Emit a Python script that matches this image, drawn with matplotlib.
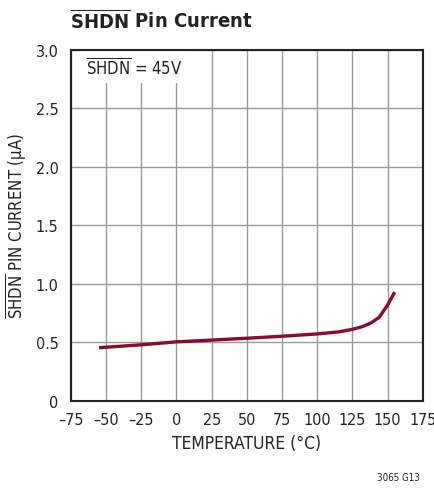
import matplotlib
matplotlib.use("Agg")
import matplotlib.pyplot as plt
import numpy as np

plt.rcParams['font.family'] = ['DejaVu Sans']
plt.rcParams['font.stretch'] = 'condensed'
plt.rcParams['mathtext.fontset'] = 'custom'
plt.rcParams['mathtext.rm'] = 'DejaVu Sans:stretch=condensed'
plt.rcParams['mathtext.bf'] = 'DejaVu Sans:weight=bold:stretch=condensed'

# data
temp_c = [-55, -25, 0, 25, 50, 75, 100, 115, 125, 132, 138, 144, 150, 155]
current_ua = [0.455, 0.48, 0.505, 0.52, 0.536, 0.553, 0.573, 0.59, 0.612, 0.635, 0.665, 0.715, 0.82, 0.93]

x_ticks = [-75, -50, -25, 0, 25, 50, 75, 100, 125, 150, 175]
y_ticks = [0, 0.5, 1.0, 1.5, 2.0, 2.5, 3.0]
y_labels = ['0', '0.5', '1.0', '1.5', '2.0', '2.5', '3.0']

fig = plt.figure(figsize=(4.35, 4.89), dpi=100)
ax = fig.add_axes([0.163, 0.178, 0.809, 0.718])

ax.plot(temp_c, current_ua, color='#8b0a2e', lw=2.4, solid_capstyle='butt', zorder=3)

ax.set_xlim(-75, 175)
ax.set_ylim(0, 3.0)
ax.set_xticks(x_ticks)
ax.set_xticklabels([str(t).replace('-', '\u2013') for t in x_ticks])
ax.set_yticks(y_ticks)
ax.set_yticklabels(y_labels)
ax.tick_params(length=0, labelsize=11.5, colors='#222222')
ax.tick_params(axis='x', pad=8)
ax.tick_params(axis='y', pad=9)
ax.grid(True, color='#999999', lw=1.0)
for s in ax.spines.values():
    s.set_linewidth(1.5)
    s.set_color('#222222')

ax.set_xlabel('TEMPERATURE (\u00b0C)', fontsize=12.5, color='#222222', labelpad=5)
ax.set_ylabel(r'$\overline{\mathrm{SHDN}}$ PIN CURRENT (μA)', fontsize=12,
              color='#222222', labelpad=5)

ax.text(-64, 2.85, r'$\overline{\mathrm{SHDN}}$ = 45V', fontsize=12, color='#222222',
        va='center', ha='left', zorder=2,
        bbox=dict(facecolor='white', edgecolor='none', pad=4))

fig.text(0.161, 0.958, r'$\overline{\mathbf{SHDN}}$ Pin Current', fontsize=14.5,
         fontweight='bold', color='#222222', ha='left', va='center')
fig.text(0.965, 0.022, '3065 G13', fontsize=7, color='#222222', ha='right', va='center')

fig.savefig('out.png', dpi=100)
